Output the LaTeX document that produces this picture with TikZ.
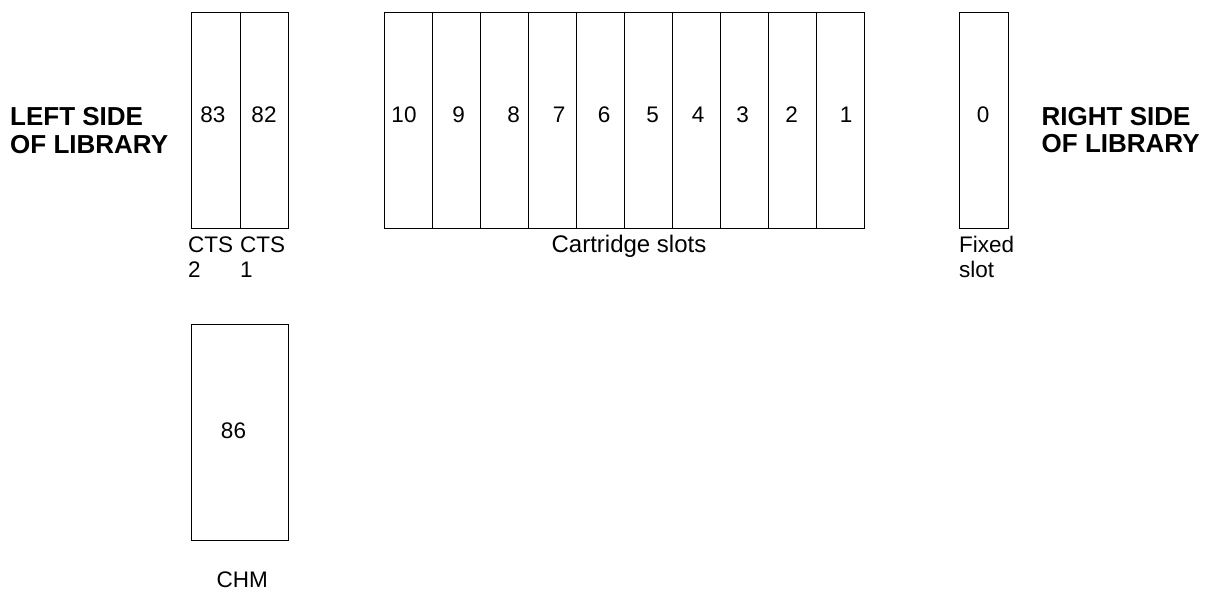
\documentclass[tikz,border=0pt]{standalone}
\usepackage{fontspec}
\setmainfont{Liberation Sans}
\begin{document}
\begin{tikzpicture}[x=1pt,y=-1pt,
  slotbox/.style={draw, line width=1.2pt, rectangle, inner sep=0pt, anchor=north west},
  numtxt/.style={inner sep=0pt, anchor=base, font=\fontsize{22.5}{26}\selectfont},
  captxt/.style={inner sep=0pt, anchor=base west, font=\fontsize{22.5}{26}\selectfont},
  sidetxt/.style={inner sep=0pt, anchor=base west, font=\fontsize{26}{27}\selectfont\bfseries}]
\useasboundingbox (0,0) rectangle (1206,591);
% left side slots
\node[slotbox, minimum width=48.5pt, minimum height=216pt] (s83) at (191,12) {};
\node[slotbox, minimum width=48.5pt, minimum height=216pt] (s82) at (239.5,12) {};
\node[numtxt] (n83) at (213,123) {83};
\node[numtxt] (n82) at (264,123) {82};
\node[captxt] (c2a) at (188,252) {CTS};
\node[captxt] (c2b) at (188,277) {2};
\node[captxt] (c1a) at (240,252) {CTS};
\node[captxt] (c1b) at (240,277) {1};
% cartridge slots
\foreach \i/\lab/\tx in {0/10/404,1/9/458.7,2/8/513.7,3/7/559,4/6/604,5/5/652.7,6/4/698,7/3/742.7,8/2/791.7,9/1/846} {
  \node[slotbox, minimum width=48pt, minimum height=216pt] (c\lab) at ({383.5+48*\i},12) {};
  \node[numtxt] (t\lab) at (\tx,123) {\lab};
}
\node[numtxt, font=\fontsize{24}{26}\selectfont] (cart) at (629,252) {Cartridge slots};
% fixed slot
\node[slotbox, minimum width=48.5pt, minimum height=216pt] (s0) at (959,12) {};
\node[numtxt] (n0) at (983,123) {0};
\node[captxt] (fx1) at (959,252) {Fixed};
\node[captxt] (fx2) at (959,277) {slot};
% CHM
\node[slotbox, minimum width=96.5pt, minimum height=216.5pt] (s86) at (191,323.5) {};
\node[numtxt] (n86) at (233.5,438) {86};
\node[numtxt] (chm) at (242.3,587) {CHM};
% side labels
\node[sidetxt] (ls1) at (10,125) {LEFT SIDE};
\node[sidetxt] (ls2) at (10,153) {OF LIBRARY};
\node[sidetxt] (rs1) at (1041.5,125) {RIGHT SIDE};
\node[sidetxt] (rs2) at (1041.5,152) {OF LIBRARY};
\end{tikzpicture}
\end{document}
